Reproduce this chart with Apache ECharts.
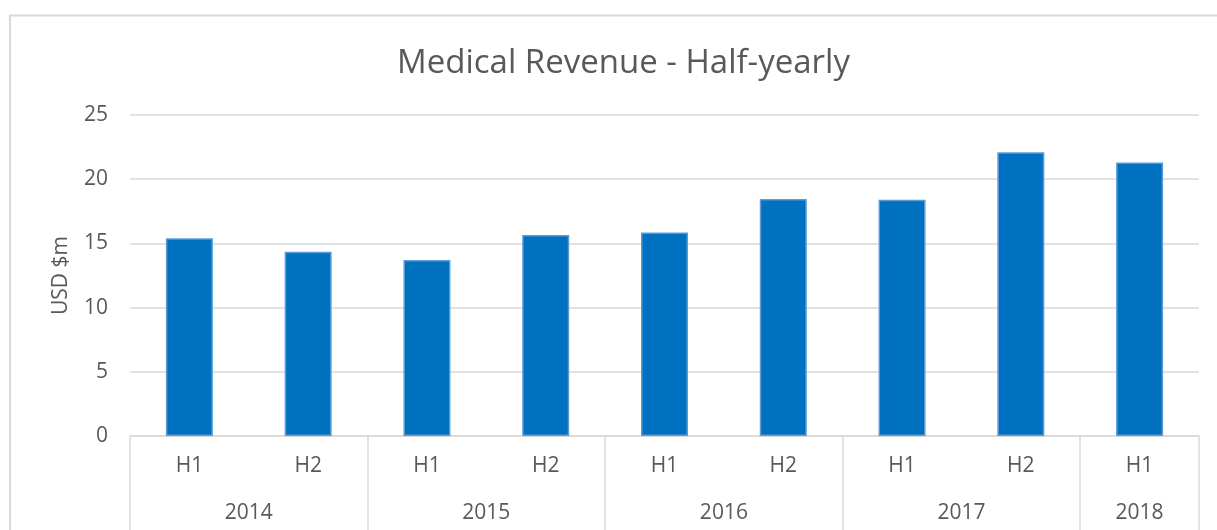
<!DOCTYPE html>
<html>
<head>
<meta charset="utf-8">
<style>
  html, body { margin: 0; padding: 0; background: #fff; }
  #chart { width: 1217px; height: 530px; }
</style>
<script src="https://cdn.jsdelivr.net/npm/echarts@6/dist/echarts.min.js"></script>
</head>
<body>
<div id="chart"></div>
<script>
// half-year buckets and the revenue (USD $m)
const halves = ['H1', 'H2', 'H1', 'H2', 'H1', 'H2', 'H1', 'H2', 'H1'];
const revenue = [15.4, 14.35, 13.7, 15.65, 15.85, 18.45, 18.4, 22.1, 21.3];
// year groups and how many halves each one covers
const years = ['2014', '2015', '2016', '2017', '2018'];
const yearSpans = [2, 2, 2, 2, 1];
const yTicks = [0, 5, 10, 15, 20, 25];

// the year axis runs in half-bucket steps so labels can sit between bars
const yearSlots = new Array(halves.length * 2 + 1).fill('');
const yearEdges = {};
let pos = 0;
years.forEach((y, i) => {
  yearEdges[pos * 2] = true;
  yearSlots[pos * 2 + yearSpans[i]] = y;
  pos += yearSpans[i];
});
yearEdges[pos * 2] = true;

const font = 'Open Sans';
const grey = '#595959';
const line = '#d9d9d9';
const labelSize = 21;
const gridBox = { left: 130, right: 18, top: 115, bottom: 94, containLabel: false };

const chart = echarts.init(document.getElementById('chart'));
chart.setOption({
  animation: false,
  backgroundColor: '#fff',
  textStyle: { fontFamily: font },
  title: {
    text: 'Medical Revenue - Half-yearly',
    left: 392,
    top: 42,
    textStyle: { fontFamily: font, fontSize: 33, fontWeight: 'normal', color: grey }
  },
  graphic: [{
    type: 'rect',
    shape: { x: 10, y: 15.5, width: 1230, height: 540 },
    style: { fill: 'none', stroke: line, lineWidth: 2 },
    silent: true
  }],
  grid: [Object.assign({}, gridBox), Object.assign({}, gridBox)],
  xAxis: [{
    type: 'category',
    gridIndex: 0,
    data: halves,
    axisLine: { lineStyle: { color: line, width: 1.5 } },
    axisTick: { show: false },
    axisLabel: { color: grey, fontSize: labelSize, margin: 20, fontFamily: font }
  }, {
    type: 'category',
    gridIndex: 1,
    boundaryGap: false,
    data: yearSlots,
    axisLine: { show: false },
    axisTick: {
      show: true,
      length: 100,
      interval: (i) => !!yearEdges[i],
      lineStyle: { color: line, width: 1.5 }
    },
    axisLabel: { color: grey, fontSize: labelSize, margin: 67, interval: 0, fontFamily: font }
  }],
  yAxis: [{
    type: 'value',
    gridIndex: 0,
    min: yTicks[0],
    max: yTicks[yTicks.length - 1],
    interval: yTicks[1] - yTicks[0],
    name: 'USD $m',
    nameLocation: 'middle',
    nameGap: 58,
    nameTextStyle: { color: grey, fontSize: labelSize, fontFamily: font },
    axisLine: { show: false },
    axisTick: { show: false },
    axisLabel: { color: grey, fontSize: labelSize, margin: 22, fontFamily: font },
    splitLine: { lineStyle: { color: line, width: 1.5 } }
  }, {
    type: 'value',
    gridIndex: 1,
    min: 0,
    max: 25,
    show: false
  }],
  series: [{
    type: 'bar',
    xAxisIndex: 0,
    yAxisIndex: 0,
    data: revenue,
    barWidth: 47,
    itemStyle: { color: '#0070c0', borderColor: '#5b9bd5', borderWidth: 1.5 }
  }]
});
</script>
</body>
</html>
